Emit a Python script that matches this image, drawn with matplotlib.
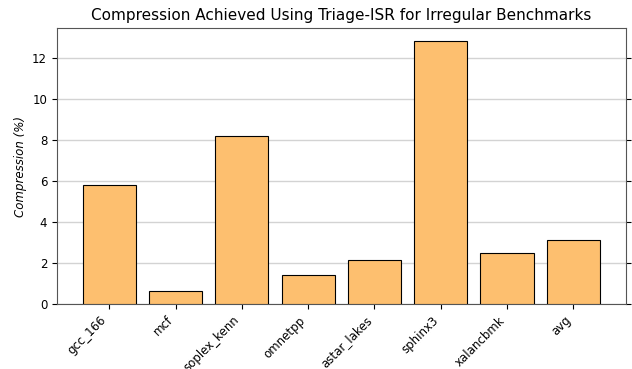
import numpy as np
import matplotlib
matplotlib.use("Agg")
import matplotlib.pyplot as plt

benchmarks = ["gcc_166", "mcf", "soplex_kenn", "omnetpp", "astar_lakes",
              "sphinx3", "xalancbmk", "avg"]
compression = [5.80, 0.63, 8.20, 1.41, 2.14, 12.83, 2.48, 3.12]

fig, ax = plt.subplots(figsize=(6.32, 3.69), dpi=100)
fig.subplots_adjust(left=0.09, right=0.99, top=0.924, bottom=0.176)

x = np.arange(len(benchmarks))
ax.bar(x, compression, width=0.8, color="#fdbf6f", edgecolor="black",
       linewidth=0.8, zorder=3)

ax.set_axisbelow(True)
ax.yaxis.grid(True, color="#d3d3d3", linewidth=1.0, zorder=0)
ax.set_xticks(x)
ax.set_xticklabels(benchmarks, rotation=45, ha="right")
ax.tick_params(axis="both", labelsize=8.5)
ax.tick_params(axis="y", right=True)
for s in ax.spines.values():
    s.set_color("#555555")

ax.set_ylabel("Compression (%)", style="italic", fontsize=8.5)
ax.set_title("Compression Achieved Using Triage-ISR for Irregular Benchmarks",
             fontsize=11)

fig.savefig("out.png", dpi=100)
